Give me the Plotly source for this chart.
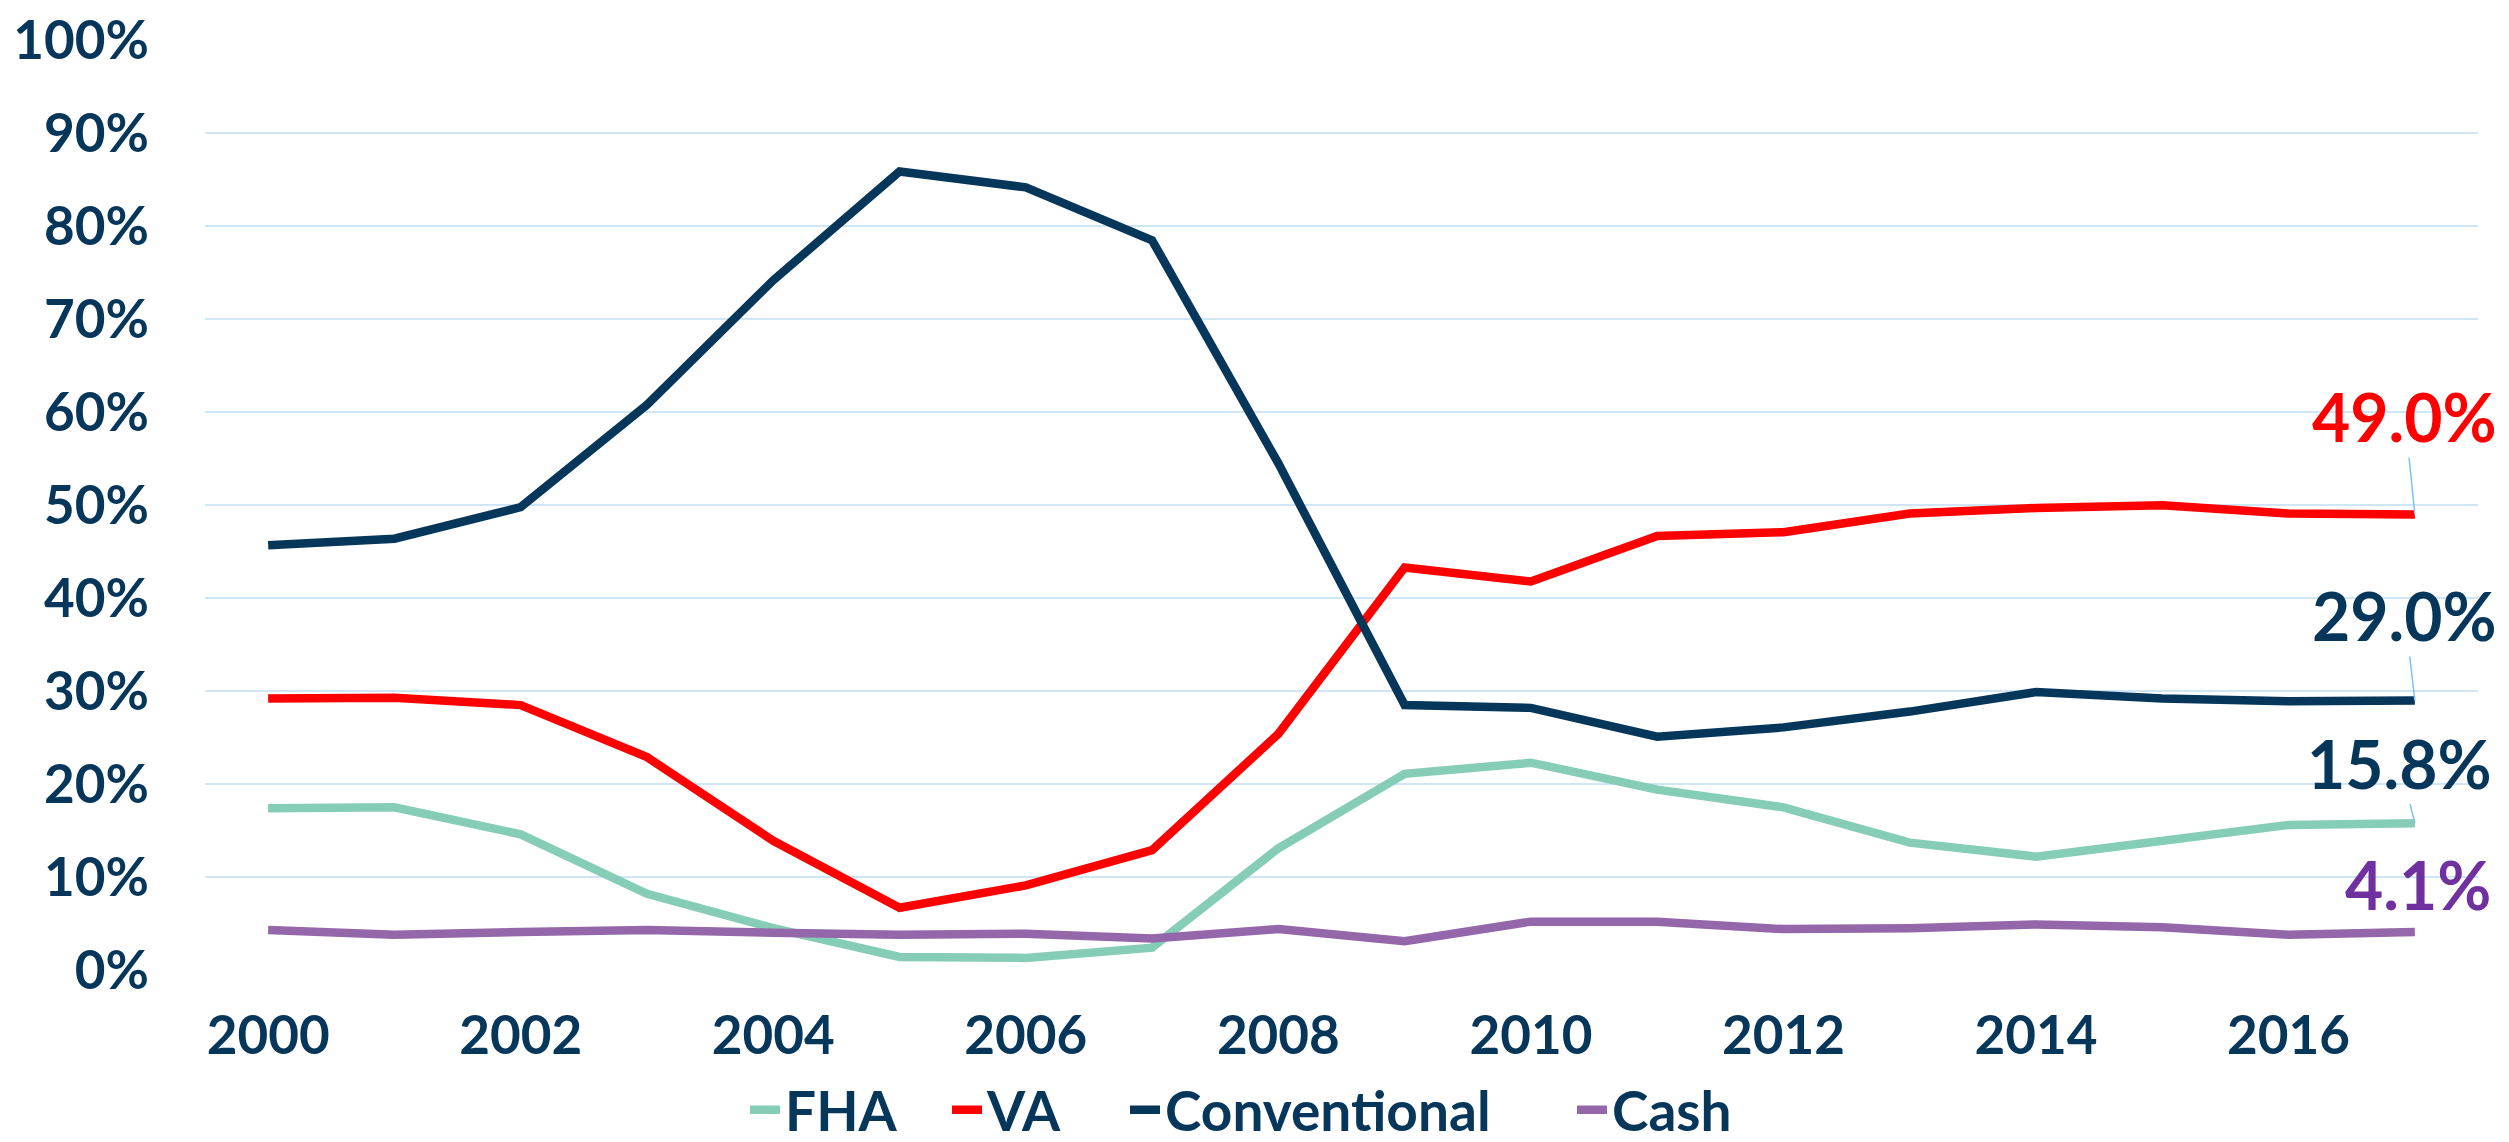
import plotly.graph_objects as go

years = list(range(2000, 2018))
fha = [17.4, 17.5, 14.6, 8.2, 4.5, 1.4, 1.3, 2.4, 13.1, 21.1, 22.3, 19.4, 17.5, 13.7, 12.2, 14.0, 15.6, 15.8]
va = [29.2, 29.3, 28.5, 22.9, 13.9, 6.7, 9.1, 12.9, 25.4, 43.3, 41.8, 46.7, 47.1, 49.1, 49.7, 50.0, 49.1, 49.0]
conventional = [45.7, 46.4, 49.8, 60.8, 74.2, 85.9, 84.2, 78.5, 54.5, 28.5, 28.2, 25.1, 26.1, 27.8, 29.9, 29.2, 28.9, 29.0]
cash = [4.3, 3.8, 4.1, 4.3, 4.0, 3.8, 3.9, 3.4, 4.4, 3.1, 5.2, 5.2, 4.4, 4.5, 4.9, 4.6, 3.8, 4.1]

series_names = ["FHA", "VA", "Conventional", "Cash"]
series_values = [fha, va, conventional, cash]
series_colors = ["#86CDB8", "#FF0000", "#06365A", "#9466AA"]

x_tickvals = [2000, 2002, 2004, 2006, 2008, 2010, 2012, 2014, 2016]
y_tickvals = [0, 10, 20, 30, 40, 50, 60, 70, 80, 90, 100]
y_ticktext = ["0%", "10%", "20%", "30%", "40%", "50%", "60%", "70%", "80%", "90%", "100%"]

label_texts = ["15.8%", "49.0%", "29.0%", "4.1%"]
label_series = [fha, va, conventional, cash]
label_colors = ["#06365A", "#FF0000", "#06365A", "#7030A0"]
label_offsets = [(-15, -60), (-10, -98), (-10, -85), (3, -47)]
label_arrows = [True, True, True, False]

NAVY = "#06365A"
FONT = "Lato, 'Open Sans', sans-serif"
W, H = 2509, 1142

legend_ids = ["legend", "legend2", "legend3", "legend4"]
legend_left_px = [737, 939, 1117, 1564]

fig = go.Figure()
for name, vals, col, lid in zip(series_names, series_values, series_colors, legend_ids):
    fig.add_trace(go.Scatter(
        x=years, y=vals, name=name, mode="lines",
        line=dict(color=col, width=8.5),
        legend=lid,
    ))

for txt, vals, col, (ax, ay), arr in zip(label_texts, label_series, label_colors, label_offsets, label_arrows):
    fig.add_annotation(
        x=years[-1], y=vals[-1], xref="x", yref="y",
        text=txt, showarrow=True, arrowhead=0, arrowwidth=1.5,
        arrowcolor="#7CC3F2" if arr else "rgba(0,0,0,0)",
        ax=ax, ay=ay, standoff=0, startstandoff=0,
        font=dict(family=FONT, size=66, color=col, weight="bold"),
        xanchor="center", yanchor="middle",
    )

legend_layout = {}
for lid, px in zip(legend_ids, legend_left_px):
    legend_layout[lid] = dict(
        orientation="h", xref="container", yref="container",
        x=px / W, xanchor="left", y=40 / H, yanchor="middle",
        font=dict(family=FONT, size=55, color=NAVY, weight="bold"),
        itemclick=False, itemdoubleclick=False,
        bgcolor="rgba(0,0,0,0)", borderwidth=0,
    )

fig.update_layout(
    width=W, height=H,
    margin=dict(l=197, r=39, t=32, b=180, autoexpand=False),
    paper_bgcolor="white", plot_bgcolor="white",
    font=dict(family=FONT, color=NAVY, size=53, weight="bold"),
    showlegend=True,
    xaxis=dict(
        range=[1999.5, 2017.5], tickvals=x_tickvals, showgrid=False,
        zeroline=False, showline=False, ticks="",
        tickfont=dict(family=FONT, size=53, color=NAVY, weight="bold"),
        ticklabelstandoff=30,
    ),
    yaxis=dict(
        range=[0, 100.05], tickvals=y_tickvals, ticktext=y_ticktext,
        showgrid=True, gridcolor="#CFE6F7", gridwidth=2,
        zeroline=False, showline=False, ticks="",
        tickfont=dict(family=FONT, size=53, color=NAVY, weight="bold"),
        ticklabelstandoff=55, ticklabeloverflow="allow",
    ),
    **legend_layout,
)

fig.write_html("out.html")
